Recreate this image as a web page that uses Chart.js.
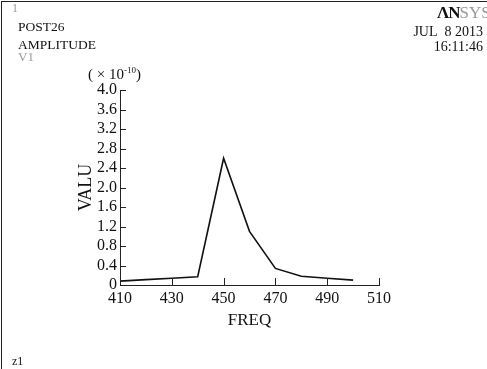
<!DOCTYPE html>
<html>
<head>
<meta charset="utf-8">
<script src="https://cdn.jsdelivr.net/npm/chart.js@4"></script>
<style>
  html, body { margin: 0; padding: 0; background: #fff; }
  #wrap { position: relative; width: 487px; height: 369px; overflow: hidden; font-family: "Liberation Serif", serif; }
  #c { position: absolute; left: 0; top: 0; }
  .t { position: absolute; white-space: nowrap; line-height: 1; color: #111; }
  .g { color: #9a9a9a; }
  #frameTop { position: absolute; left: 1px; top: 1px; width: 486px; height: 0; border-top: 1px solid #222; }
  #frameLeft { position: absolute; left: 1px; top: 1px; width: 0; height: 368px; border-left: 1px solid #222; }
</style>
</head>
<body>
<div id="wrap">
  <canvas id="c" width="487" height="369"></canvas>
  <div id="frameTop"></div>
  <div id="frameLeft"></div>
  <div class="t g" style="left:12px; top:2px; font-size:12px;">1</div>
  <div class="t" style="left:18px; top:20px; font-size:13.5px;">POST26</div>
  <div class="t" style="left:18px; top:38px; font-size:13.5px;">AMPLITUDE</div>
  <div class="t g" style="left:18px; top:50px; font-size:13px;">V1</div>
  <div class="t" style="left:437px; top:4px; font-size:17px;"><b style="letter-spacing:-1px;">&Lambda;N</b><span class="g">SYS</span></div>
  <div class="t" style="right:4px; top:25px; font-size:14px; text-align:right;">JUL&nbsp;&nbsp;8 2013</div>
  <div class="t" style="right:4px; top:40px; font-size:14px; text-align:right;">16:11:46</div>
  <div class="t" style="left:88px; top:66px; font-size:15px;">( &times; 10<sup style="font-size:9px; vertical-align:6px;">-10</sup>)</div>
  <div class="t" style="left:12px; top:355px; font-size:12px;">z1</div>
</div>
<script>
const freq = [410, 420, 430, 440, 450, 460, 470, 480, 490, 500];
const valu = [0.08, 0.11, 0.14, 0.17, 2.6, 1.1, 0.34, 0.18, 0.14, 0.10];
const xTickLabels = ['410', '430', '450', '470', '490', '510'];
const yTickLabels = ['0', '0.4', '0.8', '1.2', '1.6', '2.0', '2.4', '2.8', '3.2', '3.6', '4.0'];

const tickMarks = {
  id: 'tickMarks',
  afterDraw(chart) {
    const ctx = chart.ctx;
    const xs = chart.scales.x, ys = chart.scales.y;
    const area = chart.chartArea;
    ctx.save();
    ctx.strokeStyle = '#222';
    ctx.lineWidth = 1;
    ctx.beginPath();
    xs.ticks.forEach(t => {
      const px = Math.round(xs.getPixelForValue(t.value)) + 0.5;
      ctx.moveTo(px, area.bottom);
      ctx.lineTo(px, area.bottom - 7);
    });
    ys.ticks.forEach(t => {
      const py = Math.round(ys.getPixelForValue(t.value)) + 0.5;
      ctx.moveTo(area.left, py);
      ctx.lineTo(area.left + 6, py);
    });
    ctx.stroke();
    ctx.restore();
  }
};

const font = { family: '"Liberation Serif", serif', size: 16 };

new Chart(document.getElementById('c'), {
  type: 'line',
  data: {
    datasets: [{
      data: freq.map((f, i) => ({ x: f, y: valu[i] })),
      borderColor: '#111',
      borderWidth: 1.6,
      pointRadius: 0,
      tension: 0,
      fill: false
    }]
  },
  options: {
    responsive: false,
    animation: false,
    events: [],
    layout: { padding: { left: 0, top: 90, right: 108, bottom: 38 } },
    plugins: { legend: { display: false }, tooltip: { enabled: false } },
    scales: {
      x: {
        type: 'linear',
        min: 410, max: 510,
        afterFit(s) { s.height = 46; },
        afterBuildTicks(s) { s.ticks = xTickLabels.map(v => ({ value: Number(v) })); },
        ticks: {
          color: '#111', font, padding: 4, maxRotation: 0, autoSkip: false,
          callback: (v, i) => xTickLabels[i]
        },
        grid: { display: true, drawOnChartArea: false, drawTicks: false },
        border: { display: true, color: '#222', width: 1 },
        title: { display: true, text: 'FREQ', color: '#111', font: { family: '"Liberation Serif", serif', size: 17 }, padding: 0 }
      },
      y: {
        type: 'linear',
        min: 0, max: 4,
        afterFit(s) { s.width = 120; },
        afterBuildTicks(s) { s.ticks = yTickLabels.map(v => ({ value: Number(v) })); },
        ticks: {
          color: '#111', font, padding: 3, autoSkip: false,
          callback: (v, i) => yTickLabels[i]
        },
        grid: { display: true, drawOnChartArea: false, drawTicks: false },
        border: { display: true, color: '#222', width: 1 },
        title: { display: true, text: 'VALU', color: '#111', font: { family: '"Liberation Serif", serif', size: 18 }, padding: { top: 75, bottom: 0 } }
      }
    }
  },
  plugins: [tickMarks]
});
</script>
</body>
</html>
